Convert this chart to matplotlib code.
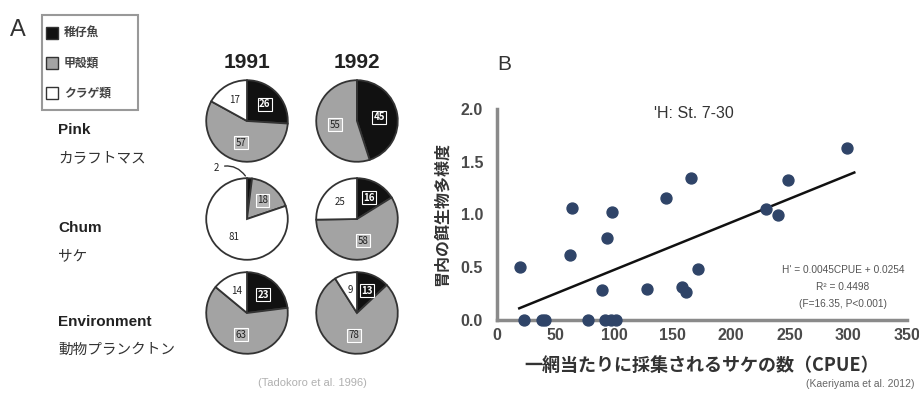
import math
import matplotlib
matplotlib.use("Agg")
import matplotlib.pyplot as plt
from matplotlib.patches import Rectangle

plt.rcParams['font.family'] = ['Noto Sans CJK JP', 'DejaVu Sans']

# --- panel A data (Tadokoro et al. 1996) ---
groups = ["稚仔魚", "甲殻類", "クラゲ類"]
group_colors = ["#111111", "#a3a3a3", "#ffffff"]
years = ["1991", "1992"]
species_en = ["Pink", "Chum", "Environment"]
species_jp = ["カラフトマス", "サケ", "動物プランクトン"]
pie_values = {
    ("Pink", "1991"): [26, 57, 17],
    ("Pink", "1992"): [45, 55, 0],
    ("Chum", "1991"): [2, 18, 81],
    ("Chum", "1992"): [16, 58, 25],
    ("Environment", "1991"): [23, 63, 14],
    ("Environment", "1992"): [13, 78, 9],
}

# --- panel B data (Kaeriyama et al. 2012) ---
cpue = [20, 64, 98, 94, 144, 166, 230, 240, 248, 299,
        62, 90, 128, 158, 161, 172,
        23, 38, 41, 78, 92, 97, 102]
diversity = [0.50, 1.06, 1.02, 0.78, 1.16, 1.35, 1.05, 1.00, 1.33, 1.63,
             0.62, 0.28, 0.29, 0.31, 0.27, 0.48,
             0, 0, 0, 0, 0, 0, 0]
slope, intercept = 0.0045, 0.0254
fit_x = [19, 305]

W, H = 920, 394
fig = plt.figure(figsize=(W / 100, H / 100), dpi=100)


def fx(px):
    return px / W


def fy(py):
    return 1 - py / H


# panel letter and legend
fig.text(fx(10), fy(30), "A", fontsize=17, color="#333333", va="center",
         family="Liberation Sans")
fig.patches.append(Rectangle((fx(42), fy(110)), fx(96), (110 - 15) / H,
                             transform=fig.transFigure, fill=False,
                             edgecolor="#999999", lw=1.5))
for i, (g, c) in enumerate(zip(groups, group_colors)):
    y = 33 + i * 30
    fig.patches.append(Rectangle((fx(46), fy(y + 6)), fx(12), 12 / H,
                                 transform=fig.transFigure, facecolor=c,
                                 edgecolor="#333333", lw=1))
    fig.text(fx(64), fy(y), g, fontsize=8.5, color="#444444", va="center",
             weight="bold")

col_x = [247, 357]
row_y = [121, 219, 313]
r_px = 41

for j, yr in enumerate(years):
    fig.text(fx(col_x[j]), fy(63), yr, fontsize=15, ha="center", va="center",
             color="#222222", family="Liberation Sans", weight="bold")

for i, sp in enumerate(species_en):
    fig.text(fx(58), fy(row_y[i] + 9), sp, fontsize=11, weight="bold",
             color="#222222", va="center", family="Liberation Sans")
    fig.text(fx(58), fy(row_y[i] + 37), species_jp[i], fontsize=10.5,
             color="#333333", va="center")
    for j, yr in enumerate(years):
        vals = pie_values[(sp, yr)]
        ax = fig.add_axes([fx(col_x[j] - r_px - 1), fy(row_y[i] + r_px + 1),
                           fx(2 * r_px + 2), (2 * r_px + 2) / H])
        wedges, _ = ax.pie(vals, colors=group_colors, startangle=90,
                           counterclock=False,
                           wedgeprops=dict(edgecolor="#333333", linewidth=1.3))
        ax.set_xlim(-1.03, 1.03)
        ax.set_ylim(-1.03, 1.03)
        ax.set_aspect("equal")
        ax.axis("off")
        for w, v, k in zip(wedges, vals, range(3)):
            if v == 0:
                continue
            ang = math.radians((w.theta1 + w.theta2) / 2)
            if v < 5:
                ax.annotate(str(v), xy=(0, 1.0), xytext=(-0.75, 1.25),
                            fontsize=7, color="#222222", ha="center",
                            va="center", annotation_clip=False,
                            arrowprops=dict(arrowstyle="-", color="#333333",
                                            lw=1,
                                            connectionstyle="arc3,rad=-0.4"))
                continue
            d = 0.55 if v > 30 else 0.6
            tx, ty = d * math.cos(ang), d * math.sin(ang)
            if k == 0:
                ax.text(tx, ty, str(v), fontsize=7, color="white",
                        ha="center", va="center", weight="bold",
                        bbox=dict(boxstyle="square,pad=0.15", fc="#111111",
                                  ec="white", lw=0.8))
            elif k == 1:
                ax.text(tx, ty, str(v), fontsize=7, color="#222222",
                        ha="center", va="center",
                        bbox=dict(boxstyle="square,pad=0.15", fc="#b8b8b8",
                                  ec="white", lw=0.8))
            else:
                ax.text(tx, ty, str(v), fontsize=7, color="#222222",
                        ha="center", va="center")

fig.text(fx(312), fy(383), "(Tadokoro et al. 1996)", fontsize=8,
         color="#b0b0b0", ha="center", va="center", family="Liberation Sans")

# --- panel B scatter ---
fig.text(fx(497), fy(64), "B", fontsize=15, color="#333333", va="center",
         family="Liberation Sans")
axb = fig.add_axes([fx(497), fy(320), fx(410), (320 - 109) / H])
axb.scatter(cpue, diversity, s=62, color="#2f4468", zorder=3, clip_on=False)
axb.plot(fit_x, [slope * x + intercept for x in fit_x], color="#111111",
         lw=1.8, zorder=2)
axb.set_xlim(0, 350)
axb.set_ylim(0, 2.0)
axb.set_xticks([0, 50, 100, 150, 200, 250, 300, 350])
axb.set_yticks([0.0, 0.5, 1.0, 1.5, 2.0])
axb.set_yticklabels(["0.0", "0.5", "1.0", "1.5", "2.0"])
for s in ["top", "right"]:
    axb.spines[s].set_visible(False)
for s in ["left", "bottom"]:
    axb.spines[s].set_color("#8a8a8a")
    axb.spines[s].set_linewidth(2.5)
axb.tick_params(length=0, labelsize=11.5, colors="#4a4a4a")
axb.tick_params(axis="x", pad=6)
axb.tick_params(axis="y", pad=10)
for lab in axb.get_xticklabels() + axb.get_yticklabels():
    lab.set_family("Liberation Sans")
    lab.set_weight("bold")
axb.set_xlabel("一網当たりに採集されるサケの数（CPUE）", fontsize=13,
               weight="bold", color="#333333", labelpad=9)
axb.set_ylabel("胃内の餌生物多様度", fontsize=11.5, weight="bold",
               color="#333333", labelpad=8)
axb.text(0.48, 0.98, "'H: St. 7-30", transform=axb.transAxes, fontsize=11.5,
         ha="center", va="center", color="#333333", family="Liberation Sans")
eq_lines = ["H' = 0.0045CPUE + 0.0254", "R² = 0.4498", "(F=16.35, P<0.001)"]
for k, line in enumerate(eq_lines):
    fig.text(fx(843), fy(270 + k * 17), line, fontsize=7.3, color="#555555",
             ha="center", va="center", family="Liberation Sans")
fig.text(fx(915), fy(384), "(Kaeriyama et al. 2012)", fontsize=7.5,
         color="#666666", ha="right", va="center", family="Liberation Sans")

fig.savefig("out.png", dpi=100)
